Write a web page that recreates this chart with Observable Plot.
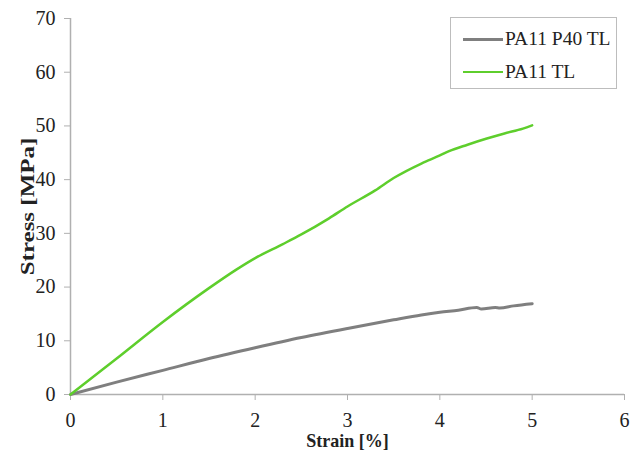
<!DOCTYPE html>
<html><head><meta charset="utf-8">
<script src="https://cdn.jsdelivr.net/npm/d3@7"></script>
<script src="https://cdn.jsdelivr.net/npm/@observablehq/plot@0.6"></script>
<style>
body{margin:0;background:#fff;font-family:"Liberation Serif",serif;}
#wrap{position:relative;width:630px;height:452px;overflow:hidden;}
#legend{position:absolute;left:450px;top:17px;width:167px;height:72px;border:1px solid #bdbdbd;background:#fff;box-sizing:border-box;}
.item{position:absolute;left:12px;display:flex;align-items:center;font-size:19.5px;color:#222;}
.sw{width:40px;height:0;margin-right:2px;}
</style></head>
<body><div id="wrap"></div>
<script>
const seriesNames = ["PA11 P40 TL", "PA11 TL"];
const seriesColors = ["#7f7f7f", "#5ece2c"];
const strainP40 = [0,0.5,1,1.5,2,2.5,3,3.5,3.8,4.0,4.2,4.4,4.45,4.6,4.65,4.8,5.0];
const stressP40 = [0,2.3,4.5,6.7,8.7,10.6,12.3,13.9,14.8,15.3,15.7,16.2,15.9,16.2,16.1,16.5,16.9];
const strainTL = [0,0.5,1,1.5,1.8,2,2.3,2.5,2.8,3,3.3,3.5,3.8,4,4.1,4.3,4.5,4.7,4.9,5.0];
const stressTL = [0,6.7,13.5,19.8,23.3,25.4,28,29.8,32.8,35,38,40.3,43,44.5,45.3,46.5,47.6,48.6,49.5,50.1];
const xTicks = [0,1,2,3,4,5,6];
const yTicks = [0,10,20,30,40,50,60,70];
const xTitle = "Strain [%]";
const yTitle = "Stress [MPa]";

const p40 = strainP40.map((x,i)=>({x, y: stressP40[i]}));
const tl = strainTL.map((x,i)=>({x, y: stressTL[i]}));

const chart = Plot.plot({
  width: 630, height: 452,
  marginLeft: 70, marginRight: 6, marginTop: 18, marginBottom: 58,
  style: {fontFamily: "Liberation Serif, serif", fontSize: "20px", color: "#222", background: "#fff", overflow: "visible"},
  x: {domain: [0, 6]},
  y: {domain: [0, 70]},
  marks: [
    Plot.axisX({ticks: xTicks, tickFormat: () => "", tickSize: 6, stroke: "#b0b0b0", label: null}),
    Plot.axisY({ticks: yTicks, tickFormat: () => "", tickSize: 6, stroke: "#b0b0b0", label: null}),
    Plot.text(xTicks, {x: d => d, frameAnchor: "bottom", dy: 26, text: d => String(d), fontSize: 20, fill: "#222", lineAnchor: "middle"}),
    Plot.text(yTicks, {y: d => d, frameAnchor: "left", dx: -15, text: d => String(d), fontSize: 20, fill: "#222", textAnchor: "end", lineAnchor: "middle"}),
    Plot.ruleX([0], {stroke: "#b0b0b0", strokeWidth: 1.5}),
    Plot.ruleY([0], {stroke: "#b0b0b0", strokeWidth: 1.5}),
    Plot.line(p40, {x: "x", y: "y", stroke: seriesColors[0], strokeWidth: 3, curve: "monotone-x"}),
    Plot.line(tl, {x: "x", y: "y", stroke: seriesColors[1], strokeWidth: 2.5, curve: "monotone-x"}),
    Plot.text([xTitle], {frameAnchor: "bottom", dy: 46, text: d => d, fontWeight: "bold", fontSize: 19, fill: "#222", textAnchor: "middle", lineAnchor: "middle"}),
    Plot.text([yTitle], {frameAnchor: "left", dx: -42, rotate: -90, text: d => d, fontWeight: "bold", fontSize: 25, fill: "#222", textAnchor: "middle", lineAnchor: "middle"})
  ]
});
const wrap = document.getElementById("wrap");
wrap.appendChild(chart);
// compress titles like the reference (scale about each text's own centre)
d3.select(chart).selectAll("text").each(function() {
  const t = this.textContent;
  if (t !== yTitle && t !== xTitle) return;
  const b = this.getBBox();
  const cx = b.x + b.width / 2, cy = b.y + b.height / 2;
  const tr = this.getAttribute("transform") || "";
  const s = t === yTitle ? "scale(1,0.74)" : "scale(0.95,1)";
  this.setAttribute("transform", `${tr} translate(${cx},${cy}) ${s} translate(${-cx},${-cy})`);
});
const lg = document.createElement("div");
lg.id = "legend";
seriesNames.forEach((n,i)=>{
  const it = document.createElement("div");
  it.className = "item";
  it.style.top = (i===0 ? 10 : 43) + "px";
  it.innerHTML = `<span class="sw" style="border-top:${i===0?3:2.5}px solid ${seriesColors[i]}"></span><span>${n}</span>`;
  lg.appendChild(it);
});
wrap.appendChild(lg);
</script></body></html>
